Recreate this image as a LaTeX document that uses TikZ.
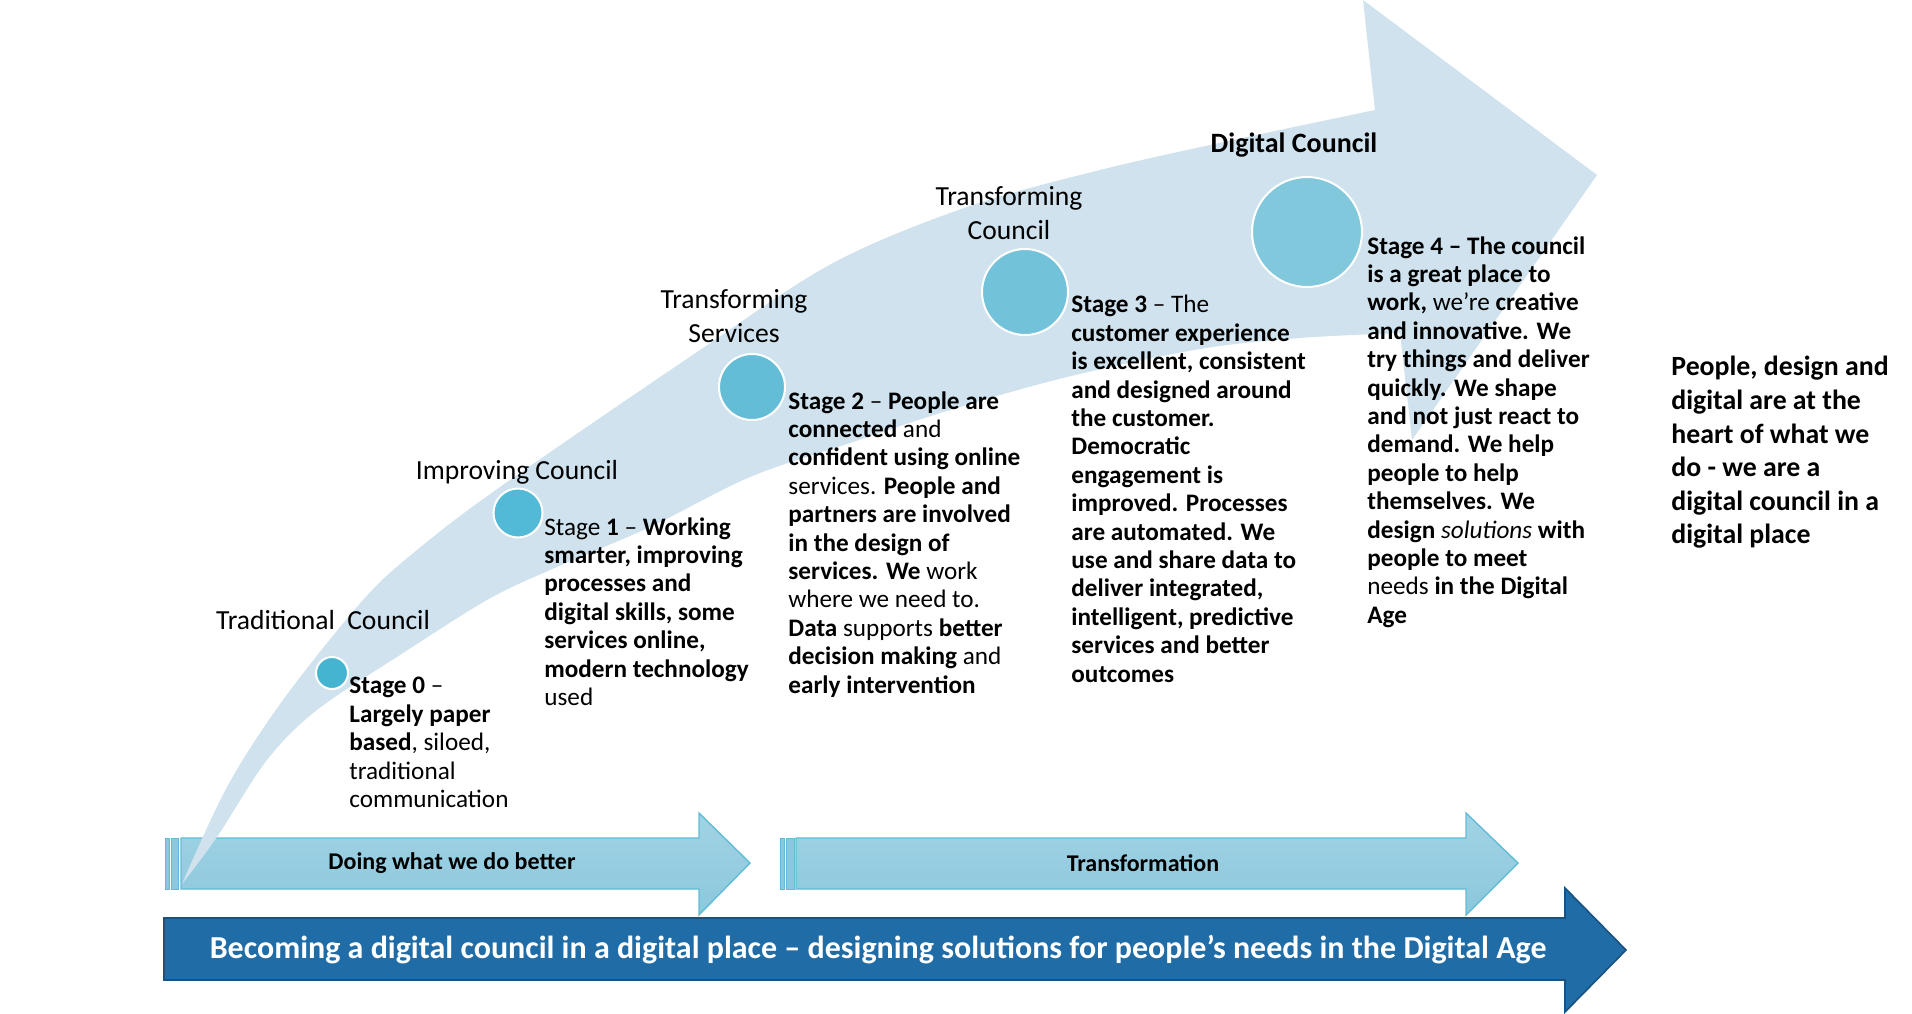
\documentclass[tikz,border=0pt]{standalone}
\usepackage{fontspec}
\setmainfont{Carlito}
\definecolor{bandc}{RGB}{207,226,237}
\definecolor{czero}{RGB}{69,180,208}
\definecolor{cone}{RGB}{82,185,214}
\definecolor{ctwo}{RGB}{99,189,215}
\definecolor{cthree}{RGB}{114,194,217}
\definecolor{cfour}{RGB}{130,200,221}
\definecolor{darkar}{RGB}{31,108,167}
\definecolor{darkbd}{RGB}{25,82,128}
\definecolor{lightT}{RGB}{161,211,228}
\definecolor{lightB}{RGB}{140,199,220}
\definecolor{lightbd}{RGB}{98,188,214}
\begin{document}
\begin{tikzpicture}[x=0.5pt,y=-0.5pt,
  stagetxt/.style={anchor=north west, inner sep=0pt, align=left, font=\fontsize{12.6}{14.2}\selectfont},
  lbl/.style={inner sep=0pt, align=center, font=\fontsize{13.8}{17}\selectfont},
  dot/.style={circle, draw=white, line width=1pt, inner sep=0pt},
  lightarrow/.style={draw=lightbd, line width=0.7pt, top color=lightT, bottom color=lightB},
  stripe/.style={draw=lightbd, line width=0.5pt, fill=lightB},
  arrowtxt/.style={inner sep=0pt, font=\fontsize{12}{14}\selectfont\bfseries}
]
\useasboundingbox (0,0) rectangle (1912,1013);
% bottom dark arrow
\path[fill=darkar, draw=darkbd, line width=0.8pt] (164,918) -- (1565,918) -- (1565,888) -- (1626,950) -- (1565,1012) -- (1565,980) -- (164,980) -- cycle;
\node[inner sep=0pt, text=white, font=\fontsize{16}{18}\selectfont\bfseries] (bigtxt) at (878,950) {Becoming a digital council in a digital place – designing solutions for people’s needs in the Digital Age};
% small arrows
\path[stripe] (165,838) rectangle (169,889);
\path[stripe] (171,838) rectangle (178,889);
\path[lightarrow] (181,838) -- (699,838) -- (699,813) -- (750,863) -- (699,915) -- (699,889) -- (181,889) -- cycle;
\path[stripe] (780,838) rectangle (784,889);
\path[stripe] (786,838) rectangle (794,889);
\path[lightarrow] (796,838) -- (1466,838) -- (1466,813) -- (1518,863) -- (1466,915) -- (1466,889) -- (796,889) -- cycle;
\node[arrowtxt] (a1) at (452,863) {Doing what we do better};
\node[arrowtxt] (a2) at (1143,863) {Transformation};
% big curved band arrow
\fill[bandc] plot[smooth, tension=0.55] coordinates {(182,884) (227,787) (283,700) (363,600) (417,550) (500,487) (700,350) (833,263) (967,207) (1100,170) (1233,140) (1375,110)}
  -- (1363,0) -- (1597,175) -- (1412,440) -- (1400,333)
  -- plot[smooth, tension=0.55] coordinates {(1400,333) (1300,338) (1200,349) (1067,377) (950,410) (850,443) (750,477) (650,527) (550,570) (487,600) (400,655) (317,710) (267,760) (217,837) (182,884)} -- cycle;
% circles
\node[dot, fill=czero, minimum size=16pt] (s0) at (332,673) {};
\node[dot, fill=cone, minimum size=24.5pt] (s1) at (518,513) {};
\node[dot, fill=ctwo, minimum size=33pt] (s2) at (752,387) {};
\node[dot, fill=cthree, minimum size=43pt] (s3) at (1025,292) {};
\node[dot, fill=cfour, minimum size=55pt] (s4) at (1307,232) {};
% labels
\node[lbl] (l0) at (323,620) {Traditional~ Council};
\node[lbl] (l1) at (517,472) {Improving Council};
\node[lbl] (l2) at (734,316) {Transforming\\Services};
\node[lbl] (l3) at (1009,213) {Transforming\\Council};
\node[lbl, font=\fontsize{14}{17}\selectfont\bfseries] (l4) at (1294,145) {Digital Council};
% stage texts
\node[stagetxt] (t0) at (349,677) {\textbf{Stage 0} –\\\textbf{Largely paper}\\\textbf{based}, siloed,\\traditional\\communication};
\node[stagetxt] (t1) at (544,517) {Stage \textbf{1} – \textbf{Working}\\\textbf{smarter, improving}\\\textbf{processes and}\\\textbf{digital skills, some}\\\textbf{services online,}\\\textbf{modern technology}\\used};
\node[stagetxt] (t2) at (788,391) {\textbf{Stage 2} – \textbf{People are}\\\textbf{connected} and\\\textbf{confident using online}\\services. \textbf{People and}\\\textbf{partners are involved}\\\textbf{in the design of}\\\textbf{services. We} work\\where we need to.\\\textbf{Data} supports \textbf{better}\\\textbf{decision making} and\\\textbf{early intervention}};
\node[stagetxt] (t3) at (1071,295) {\textbf{Stage 3} – The\\\textbf{customer experience}\\\textbf{is excellent, consistent}\\\textbf{and designed around}\\\textbf{the customer.}\\\textbf{Democratic}\\\textbf{engagement is}\\\textbf{improved. Processes}\\\textbf{are automated. We}\\\textbf{use and share data to}\\\textbf{deliver integrated,}\\\textbf{intelligent, predictive}\\\textbf{services and better}\\\textbf{outcomes}};
\node[stagetxt] (t4) at (1367,236) {\textbf{Stage 4 – The council}\\\textbf{is a great place to}\\\textbf{work,} we're \textbf{creative}\\\textbf{and innovative. We}\\\textbf{try things and deliver}\\\textbf{quickly. We shape}\\\textbf{and not just react to}\\\textbf{demand. We help}\\\textbf{people to help}\\\textbf{themselves. We}\\\textbf{design} \textit{solutions} \textbf{with}\\\textbf{people to meet}\\needs \textbf{in the Digital}\\\textbf{Age}};
\node[anchor=north west, inner sep=0pt, align=left, font=\fontsize{13.9}{16.8}\selectfont\bfseries] (rt) at (1671,356) {People, design and\\digital are at the\\heart of what we\\do - we are a\\digital council in a\\digital place};
\end{tikzpicture}
\end{document}
